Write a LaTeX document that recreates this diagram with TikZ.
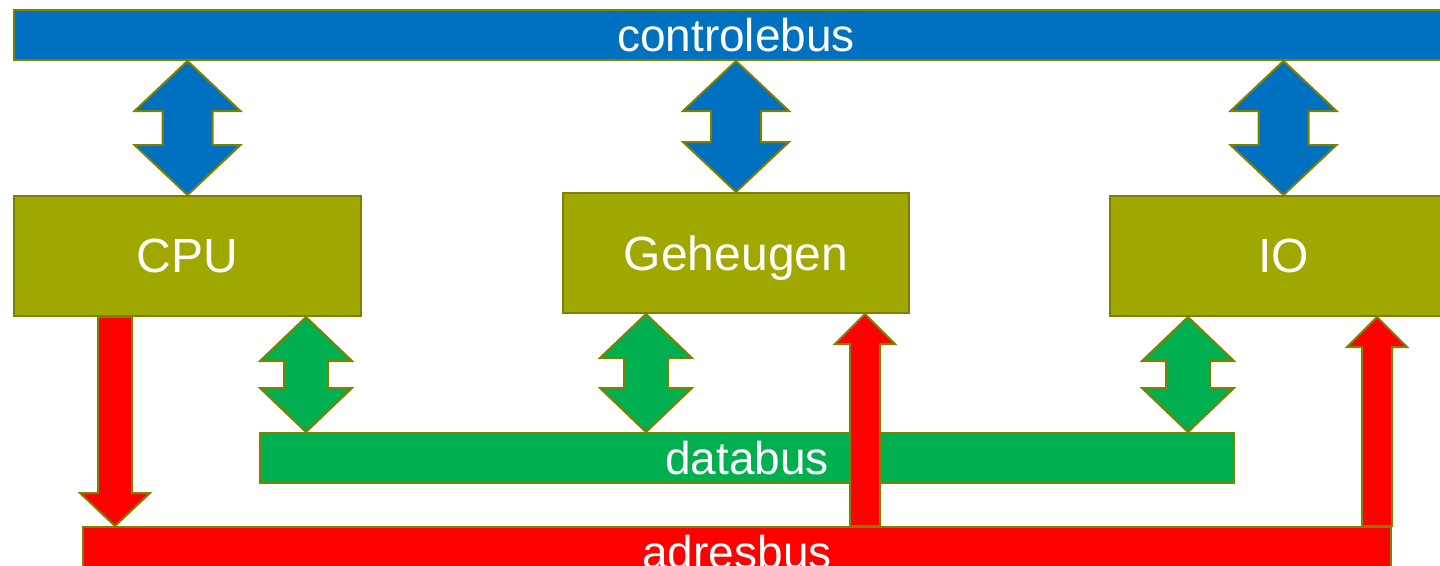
\documentclass[tikz,border=0pt]{standalone}
\usepackage{fontspec}
\setmainfont{Liberation Sans}
\usepackage{xcolor}
\usetikzlibrary{calc}

\definecolor{busblue}{HTML}{0070C0}
\definecolor{busgreen}{HTML}{00B050}
\definecolor{busred}{HTML}{FF0000}
\definecolor{unitolive}{HTML}{A0A800}
\definecolor{edgeolive}{HTML}{7F7F00}

\tikzset{
  bus/.style={draw=edgeolive, line width=2pt, anchor=north west, minimum height=50pt, inner sep=0pt, text=white, font=\fontsize{46}{46}\selectfont},
  unit/.style={draw=edgeolive, line width=2pt, fill=unitolive, anchor=north west, minimum width=347pt, minimum height=120pt, inner sep=0pt, text=white, text depth=0pt, font=\fontsize{48}{48}\selectfont},
  link/.style={draw=edgeolive, line width=2pt, line join=miter}
}

% double arrow: style, top tip, bottom tip, half head, half shaft, head length
\newcommand\dblarrow[6]{%
  \draw[link,#1] (#2) -- ($(#2)+(#4,#6)$) -- ($(#2)+(#5,#6)$) -- ($(#3)+(#5,-#6)$) -- ($(#3)+(#4,-#6)$) -- (#3)
    -- ($(#3)+(-#4,-#6)$) -- ($(#3)+(-#5,-#6)$) -- ($(#2)+(-#5,#6)$) -- ($(#2)+(-#4,#6)$) -- cycle;}
% single arrow: style, tip, tail, half head, half shaft, head length (signed)
\newcommand\sglarrow[6]{%
  \draw[link,#1] (#2) -- ($(#2)+(#4,#6)$) -- ($(#2)+(#5,#6)$) -- ($(#3)+(#5,0)$) -- ($(#3)+(-#5,0)$)
    -- ($(#2)+(-#5,#6)$) -- ($(#2)+(-#4,#6)$) -- cycle;}

\begin{document}
\begin{tikzpicture}[x=1pt, y=-1pt]
  \useasboundingbox (0,0) rectangle (1440,565);
  \clip (0,0) rectangle (1440,565);

  % buses
  \node[bus, fill=busblue, minimum width=1444pt] (ctrl) at (13,9) {controlebus};
  \node[bus, fill=busgreen, minimum width=974pt] (data) at (259,432) {databus};
  \node[bus, fill=busred, minimum width=1308pt] (adres) at (82,526) {adresbus};

  % units
  \node[unit] (cpu) at (13,195) {CPU};
  \node[unit, minimum width=346pt] (mem) at (562,192) {Geheugen};
  \node[unit] (io) at (1109,195) {IO};

  % connection points
  \coordinate (cpuc) at (ctrl.south -| cpu.north);
  \coordinate (memc) at (ctrl.south -| mem.north);
  \coordinate (ioc) at (ctrl.south -| io.north);
  \coordinate (cpud) at ($(cpu.south east)+(-56,0)$);
  \coordinate (memd) at ($(mem.south)+(-90,0)$);
  \coordinate (iod) at ($(io.south west)+(79,0)$);
  \coordinate (cpudb) at (data.north -| cpud);
  \coordinate (memdb) at (data.north -| memd);
  \coordinate (iodb) at (data.north -| iod);
  \coordinate (cpua) at ($(cpu.south west)+(102,0)$);
  \coordinate (mema) at ($(mem.south east)+(-45,0)$);
  \coordinate (ioa) at ($(io.south west)+(268,0)$);
  \coordinate (cpuab) at (adres.north -| cpua);
  \coordinate (memab) at (adres.north -| mema);
  \coordinate (ioab) at (adres.north -| ioa);

  % controlebus
  \dblarrow{fill=busblue}{cpuc}{cpu.north}{53}{25}{50}
  \dblarrow{fill=busblue}{memc}{mem.north}{53}{25}{50}
  \dblarrow{fill=busblue}{ioc}{io.north}{53}{25}{50}
  % databus
  \dblarrow{fill=busgreen}{cpud}{cpudb}{46}{22}{44}
  \dblarrow{fill=busgreen}{memd}{memdb}{46}{22}{44}
  \dblarrow{fill=busgreen}{iod}{iodb}{46}{22}{44}
  % adresbus
  \sglarrow{fill=busred}{cpuab}{cpua}{35}{17}{-33}
  \sglarrow{fill=busred}{mema}{memab}{30}{15}{30}
  \sglarrow{fill=busred}{ioa}{ioab}{30}{15}{30}
\end{tikzpicture}
\end{document}
